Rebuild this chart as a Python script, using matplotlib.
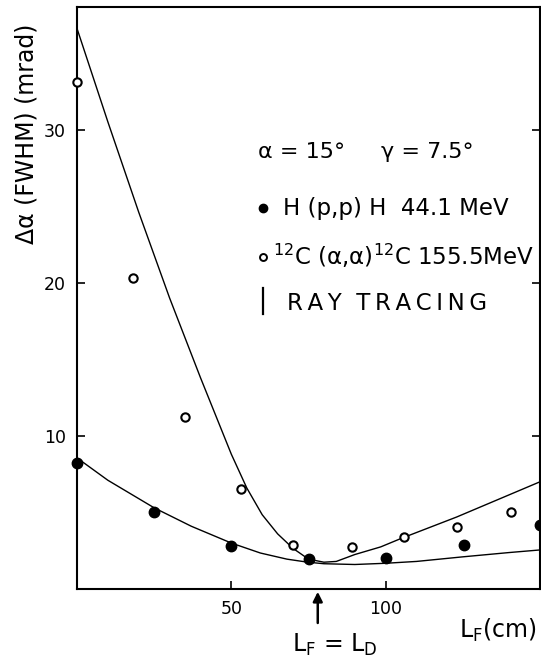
import matplotlib
matplotlib.use("Agg")
import matplotlib.pyplot as plt

plt.rcParams['font.family'] = ['DejaVu Sans']
plt.rcParams['mathtext.default'] = 'regular'

# Data
h_x = [0, 25, 50, 75, 100, 125.5, 150]
h_y = [8.2, 5.0, 2.8, 1.95, 2.0, 2.85, 4.2]

c_x = [0, 18.2, 35, 53.2, 70.1, 89, 105.8, 123, 140.6]
c_y = [33.1, 20.3, 11.2, 6.5, 2.9, 2.75, 3.4, 4.05, 5.0]

# ray tracing curves
rt_c_x = [0, 10, 20, 30, 40, 45, 50, 55, 60, 65, 70, 75, 80, 84, 90, 98.4, 105, 123, 150]
rt_c_y = [36.6, 30.5, 24.6, 19.0, 13.8, 11.3, 8.8, 6.6, 4.85, 3.6, 2.65, 1.95, 1.75, 1.8, 2.25, 2.75, 3.3, 4.7, 7.0]

rt_h_x = [0, 10, 25, 37, 50, 59.4, 68, 74.4, 80, 90, 100, 110, 125, 140, 150]
rt_h_y = [8.56, 7.1, 5.3, 4.1, 3.0, 2.35, 1.95, 1.76, 1.65, 1.6, 1.68, 1.8, 2.1, 2.38, 2.55]

x_ticks = [50, 100]
y_ticks = [10, 20, 30]

fig = plt.figure(figsize=(5.41, 6.62), dpi=100)
ax = fig.add_axes([77/541, 1 - 589/662, (540-77)/541, (589-7)/662])

ax.plot(rt_c_x, rt_c_y, color='black', lw=1.0)
ax.plot(rt_h_x, rt_h_y, color='black', lw=1.0)
ax.plot(c_x, c_y, 'o', ms=6, mfc='white', mec='black', mew=1.5, clip_on=False, zorder=5)
ax.plot(h_x, h_y, 'o', ms=7.5, mfc='black', mec='black', clip_on=False, zorder=5)

ax.set_xlim(0, 150)
ax.set_ylim(0, 38)
ax.set_xticks(x_ticks)
ax.set_yticks(y_ticks)
ax.tick_params(direction='in', length=6, width=1.2, labelsize=12.5, right=True, top=False,
               pad=8)
for s in ax.spines.values():
    s.set_linewidth(1.5)

# y label
fig.text(27/541, 1 - 134/662, 'Δα (FWHM) (mrad)', rotation=90, fontsize=17,
         ha='center', va='center')

# x label
fig.text(537/541, 1 - 630/662, r'$L_F$(cm)', fontsize=17, ha='right', va='center')

# L_F = L_D arrow
ax.annotate('', xy=(78, 0), xycoords='data', xytext=(78, -2.4), textcoords='data',
            arrowprops=dict(arrowstyle='-|>', color='black', lw=1.8, mutation_scale=14),
            annotation_clip=False)
fig.text(335/541, 1 - 645/662, r'$L_F$ = $L_D$', fontsize=17, ha='center', va='center')

# legend block
def fy(py):
    return 1 - py/662
def fx(px):
    return px/541

fig.text(fx(258), fy(152), 'α = 15°', fontsize=16, ha='left', va='center')
fig.text(fx(381), fy(152), 'γ = 7.5°', fontsize=16, ha='left', va='center')

fig.lines.append(plt.Line2D([fx(263)], [fy(208)], marker='o', ms=6, mfc='black', mec='black',
                            transform=fig.transFigure))
fig.text(fx(283), fy(208), 'H (p,p) H  44.1 MeV', fontsize=16.5, ha='left', va='center')

fig.lines.append(plt.Line2D([fx(263)], [fy(257)], marker='o', ms=5, mfc='white', mec='black',
                            mew=1.4, transform=fig.transFigure))
fig.text(fx(273), fy(256), r'$^{12}$C (α,α)$^{12}$C 155.5MeV', fontsize=16.5, ha='left', va='center')

fig.lines.append(plt.Line2D([fx(263), fx(263)], [fy(288), fy(314)], color='black', lw=1.6,
                            transform=fig.transFigure))
fig.text(fx(287), fy(303), 'R\u2009A\u2009Y  T\u2009R\u2009A\u2009C\u2009I\u2009N\u2009G',
         fontsize=16.5, ha='left', va='center')

fig.savefig('out.png', dpi=100)
